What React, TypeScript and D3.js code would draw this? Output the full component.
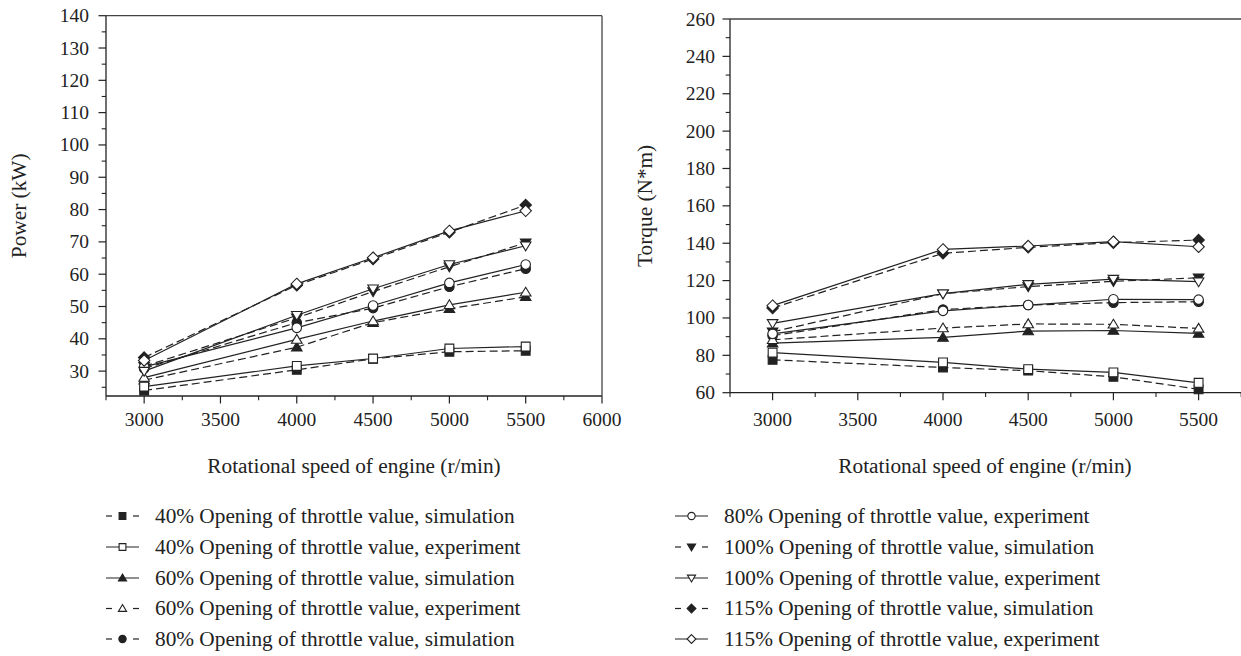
import React from "react";
import * as d3 from "d3";

const speeds = [3000, 4000, 4500, 5000, 5500];

// Power (kW)
const p40sim = [24.0, 30.4, 33.8, 36.0, 36.3];
const p40exp = [25.2, 31.6, 33.9, 37.0, 37.6];
const p60sim = [27.2, 37.4, 45.0, 49.3, 53.0];
const p60exp = [28.0, 39.8, 45.5, 50.5, 54.4];
const p80sim = [30.8, 45.0, 49.5, 56.1, 61.7];
const p80exp = [31.3, 43.4, 50.3, 57.3, 63.0];
const p100sim = [31.5, 46.5, 54.6, 62.3, 69.7];
const p100exp = [30.0, 47.3, 55.5, 63.0, 68.8];
const p115sim = [34.2, 56.6, 64.7, 73.0, 81.4];
const p115exp = [33.3, 57.0, 65.1, 73.4, 79.6];

// Torque (N*m)
const t40sim = [77.6, 73.5, 71.8, 68.5, 61.8];
const t40exp = [81.4, 76.2, 72.6, 70.9, 65.3];
const t60sim = [86.5, 89.6, 93.0, 93.3, 91.7];
const t60exp = [88.3, 94.6, 96.8, 96.6, 94.4];
const t80sim = [90.5, 104.5, 106.9, 108.2, 108.7];
const t80exp = [91.5, 103.8, 106.9, 110.0, 109.8];
const t100sim = [92.6, 113.0, 116.8, 119.6, 121.5];
const t100exp = [97.1, 113.0, 118.0, 120.8, 119.4];
const t115sim = [105.3, 134.6, 137.8, 140.3, 141.7];
const t115exp = [106.6, 136.7, 138.5, 140.8, 138.1];

const powerTicks = [30, 40, 50, 60, 70, 80, 90, 100, 110, 120, 130, 140];
const torqueTicks = [60, 80, 100, 120, 140, 160, 180, 200, 220, 240, 260];
const speedTicks = [3000, 3500, 4000, 4500, 5000, 5500, 6000];

const legendLabels = [
  "40% Opening of throttle value, simulation",
  "40% Opening of throttle value, experiment",
  "60% Opening of throttle value, simulation",
  "60% Opening of throttle value, experiment",
  "80% Opening of throttle value, simulation",
  "80% Opening of throttle value, experiment",
  "100% Opening of throttle value, simulation",
  "100% Opening of throttle value, experiment",
  "115% Opening of throttle value, simulation",
  "115% Opening of throttle value, experiment",
];

type Shape = "square" | "triUp" | "triDown" | "circle" | "diamond";
const shapes: Shape[] = ["square", "square", "triUp", "triUp", "circle", "circle", "triDown", "triDown", "diamond", "diamond"];
const filled = [true, false, true, false, true, false, true, false, true, false];
const legendDashed = [true, false, false, true, true, false, true, false, true, false];

const FONT = "'Liberation Serif', 'Times New Roman', serif";
const FS = 21.3;
const FS_TICK = 19.5;
const INK = "#222";

function markerPath(shape: Shape, s: number): string {
  switch (shape) {
    case "square":
      return `M${-s},${-s}H${s}V${s}H${-s}Z`;
    case "triUp":
      return `M0,${-s * 1.15}L${s * 1.2},${s * 0.85}L${-s * 1.2},${s * 0.85}Z`;
    case "triDown":
      return `M0,${s * 1.15}L${s * 1.2},${-s * 0.85}L${-s * 1.2},${-s * 0.85}Z`;
    case "diamond":
      return `M0,${-s * 1.3}L${s * 1.3},0L0,${s * 1.3}L${-s * 1.3},0Z`;
    case "circle":
    default:
      return `M${s * 1.08},0A${s * 1.08},${s * 1.08} 0 1,1 ${-s * 1.08},0A${s * 1.08},${s * 1.08} 0 1,1 ${s * 1.08},0Z`;
  }
}

function Marker({ x, y, shape, fill, s }: { x: number; y: number; shape: Shape; fill: boolean; s: number }) {
  return (
    <path
      d={markerPath(shape, s)}
      transform={`translate(${x},${y})`}
      fill={fill ? INK : "#fff"}
      stroke={INK}
      strokeWidth={1.1}
    />
  );
}

interface ChartProps {
  series: number[][];
  dashed: boolean[];
  x0: number;
  x1: number;
  y0: number;
  y1: number;
  xDomain: [number, number];
  yDomain: [number, number];
  yTicks: number[];
  yMinorStep: number;
  yLabel: string;
  yLabelX: number;
  yLabelGap: number;
  xTitleX: number;
  frame: boolean;
  clipRight: number;
}

function Chart(p: ChartProps) {
  const x = d3.scaleLinear().domain(p.xDomain).range([p.x0, p.x1]);
  const y = d3.scaleLinear().domain(p.yDomain).range([p.y0, p.y1]);
  const line = d3
    .line<[number, number]>()
    .x((d) => x(d[0]))
    .y((d) => y(d[1]));
  const xMinor = d3.range(p.xDomain[0], p.xDomain[1] + 1, 250).filter((v) => v % 500 !== 0 && x(v) <= p.clipRight + 1);
  const xMajor = speedTicks.filter((v) => x(v) <= p.clipRight + 1);
  const yMinorAll = d3
    .range(Math.ceil(p.yDomain[0] / p.yMinorStep) * p.yMinorStep, p.yDomain[1] + 0.001, p.yMinorStep)
    .filter((v) => !p.yTicks.includes(v));
  const right = Math.min(p.x1, p.clipRight);
  const order = [0, 2, 4, 6, 8, 1, 3, 5, 7, 9];
  return (
    <g>
      {order.map((i) => (
        <path
          key={"l" + i}
          d={line(speeds.map((s, k) => [s, p.series[i][k]] as [number, number])) || ""}
          fill="none"
          stroke={INK}
          strokeWidth={1.2}
          strokeDasharray={p.dashed[i] ? "8,4" : undefined}
        />
      ))}
      {order.map((i) =>
        speeds.map((s, k) => (
          <Marker key={"m" + i + "-" + k} x={x(s)} y={y(p.series[i][k])} shape={shapes[i]} fill={filled[i]} s={4.4} />
        ))
      )}
      <line x1={p.x0} x2={p.x0} y1={p.y0} y2={p.y1} stroke={INK} strokeWidth={1.3} />
      <line x1={p.x0} x2={right} y1={p.y0} y2={p.y0} stroke={INK} strokeWidth={1.3} />
      <line x1={p.x0} x2={right} y1={p.y1} y2={p.y1} stroke="#444" strokeWidth={1.3} />
      {p.frame && <line x1={p.x1} x2={p.x1} y1={p.y0} y2={p.y1} stroke="#444" strokeWidth={1.3} />}
      {p.yTicks.map((v) => (
        <g key={"yt" + v}>
          <line x1={p.x0 - 7.5} x2={p.x0} y1={y(v)} y2={y(v)} stroke={INK} strokeWidth={1.2} />
          <text x={p.x0 - p.yLabelGap} y={y(v) + 6.5} textAnchor="end" fontFamily={FONT} fontSize={FS_TICK} fill={INK}>
            {v}
          </text>
        </g>
      ))}
      {yMinorAll.map((v) => (
        <line key={"ym" + v} x1={p.x0 - 4.3} x2={p.x0} y1={y(v)} y2={y(v)} stroke={INK} strokeWidth={1.1} />
      ))}
      {xMajor.map((v) => (
        <g key={"xt" + v}>
          <line x1={x(v)} x2={x(v)} y1={p.y0} y2={p.y0 + 7.5} stroke={INK} strokeWidth={1.2} />
          <text x={x(v)} y={425.5} textAnchor="middle" fontFamily={FONT} fontSize={FS_TICK} fill={INK}>
            {v}
          </text>
        </g>
      ))}
      {xMinor.map((v) => (
        <line key={"xm" + v} x1={x(v)} x2={x(v)} y1={p.y0} y2={p.y0 + 4.3} stroke={INK} strokeWidth={1.1} />
      ))}
      <text x={p.xTitleX} y={473} textAnchor="middle" fontFamily={FONT} fontSize={FS} fill={INK}>
        Rotational speed of engine (r/min)
      </text>
      <text
        transform={`translate(${p.yLabelX},${(p.y0 + p.y1) / 2}) rotate(-90)`}
        textAnchor="middle"
        fontFamily={FONT}
        fontSize={FS}
        fill={INK}
      >
        {p.yLabel}
      </text>
    </g>
  );
}

function LegendItem({ i, lx, tx, cy }: { i: number; lx: number; tx: number; cy: number }) {
  const mx = lx + 16.5;
  return (
    <g>
      {legendDashed[i] ? (
        <>
          <line x1={lx} x2={lx + 6} y1={cy} y2={cy} stroke={INK} strokeWidth={1.2} />
          <line x1={lx + 27} x2={lx + 33} y1={cy} y2={cy} stroke={INK} strokeWidth={1.2} />
        </>
      ) : (
        <line x1={lx} x2={lx + 33} y1={cy} y2={cy} stroke={INK} strokeWidth={1.2} />
      )}
      <Marker x={mx} y={cy} shape={shapes[i]} fill={filled[i]} s={3.4} />
      <text x={tx} y={cy + 6.8} fontFamily={FONT} fontSize={FS} fill={INK}>
        {legendLabels[i]}
      </text>
    </g>
  );
}

export default function App() {
  const powerSeries = [p40sim, p40exp, p60sim, p60exp, p80sim, p80exp, p100sim, p100exp, p115sim, p115exp];
  const torqueSeries = [t40sim, t40exp, t60sim, t60exp, t80sim, t80exp, t100sim, t100exp, t115sim, t115exp];
  const powerDashed = [true, false, true, false, true, false, true, false, true, false];
  const torqueDashed = [true, false, false, true, true, false, true, false, true, false];
  const rows = [516, 547, 578, 608.5, 639];
  return (
    <svg
      width={1241}
      height={656}
      viewBox="0 0 1241 656"
      style={{ position: "absolute", left: 0, top: 0, background: "#fff" }}
    >
      <rect width={1241} height={656} fill="#fff" />
      <Chart
        series={powerSeries}
        dashed={powerDashed}
        x0={106}
        x1={602}
        y0={396}
        y1={15.7}
        xDomain={[2750, 6000]}
        yDomain={[22.3, 140]}
        yTicks={powerTicks}
        yMinorStep={5}
        yLabel="Power (kW)"
        yLabelX={26}
        yLabelGap={17}
        xTitleX={354}
        frame={true}
        clipRight={1241}
      />
      <Chart
        series={torqueSeries}
        dashed={torqueDashed}
        x0={730}
        x1={1283.8}
        y0={392.7}
        y1={19}
        xDomain={[2750, 6000]}
        yDomain={[60, 260]}
        yTicks={torqueTicks}
        yMinorStep={10}
        yLabel="Torque (N*m)"
        yLabelX={652}
        yLabelGap={15}
        xTitleX={985}
        frame={false}
        clipRight={1241}
      />
      {rows.map((cy, r) => (
        <LegendItem key={"la" + r} i={r} lx={106} tx={155} cy={cy} />
      ))}
      {rows.map((cy, r) => (
        <LegendItem key={"lb" + r} i={r + 5} lx={675} tx={724} cy={cy} />
      ))}
    </svg>
  );
}
